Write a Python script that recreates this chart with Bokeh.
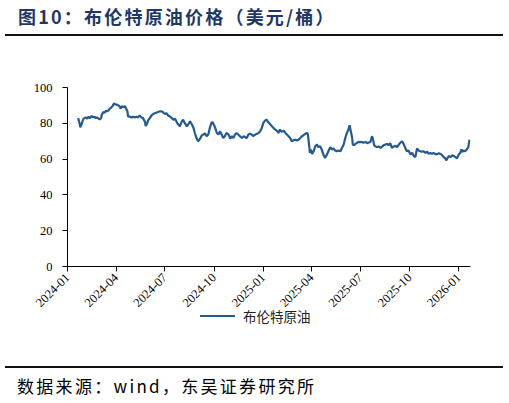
import datetime as dt
from math import pi
from bokeh.plotting import figure
from bokeh.layouts import column
from bokeh.models import (Div, MonthsTicker, DatetimeTickFormatter, Range1d, FixedTicker)
from bokeh.embed import file_html
from bokeh.resources import INLINE

# ---- data ----
base_date = "2024-01-01"
day_offsets = [20, 23, 24, 26, 28, 30, 34, 37, 39, 42, 45, 48, 50, 53, 55, 58, 60, 63, 64, 67,
               69, 72, 74, 77, 79, 82, 84, 87, 88, 92, 95, 98, 99, 102, 104, 107, 109, 112, 113, 117,
               120, 123, 126, 129, 132, 135, 138, 141, 145, 146, 149, 151, 154, 157, 160, 163, 166, 169, 173, 176,
               178, 182, 185, 188, 191, 195, 198, 201, 204, 207, 210, 213, 216, 219, 223, 226, 229, 232, 235, 238,
               241, 244, 248, 251, 254, 257, 260, 263, 266, 269, 271, 274, 276, 279, 282, 285, 288, 291, 294, 297,
               301, 304, 307, 310, 313, 316, 319, 322, 326, 329, 332, 335, 338, 341, 344, 347, 351, 354, 357, 360,
               363, 366, 369, 372, 375, 379, 382, 385, 388, 391, 394, 397, 400, 404, 407, 410, 413, 416, 419, 422,
               425, 429, 432, 435, 438, 441, 444, 447, 449, 451, 453, 455, 457, 460, 463, 466, 469, 472, 475, 478,
               481, 485, 488, 491, 494, 497, 500, 503, 506, 510, 513, 516, 519, 522, 525, 527, 530, 532, 533, 536,
               538, 541, 544, 547, 550, 553, 557, 560, 563, 566, 569, 571, 573, 575, 578, 581, 585, 588, 591, 594,
               597, 600, 603, 606, 609, 613, 616, 619, 622, 625, 628, 631, 634, 637, 641, 644, 647, 650, 653, 656,
               659, 662, 665, 669, 672, 675, 678, 681, 684, 688, 691, 694, 697, 700, 703, 706, 708, 711, 713, 716,
               719, 722, 725, 728, 731, 734, 736, 738, 740, 743, 746, 749, 751]
brent_price = [82.9, 79.3, 77.8, 79.3, 81.1, 82.6, 83.3, 82.6, 83.7, 82.9, 84.1, 83.3, 83.7, 82.9, 83.3, 82.6, 82.2, 82.9, 84.8, 86.3,
               85.9, 87.0, 86.7, 87.4, 88.1, 88.9, 89.6, 91.1, 90.7, 90.4, 90.0, 89.3, 88.1, 89.6, 88.9, 89.6, 88.5, 86.7, 83.9, 83.7,
               83.3, 83.7, 83.3, 83.7, 83.3, 84.4, 83.3, 82.9, 80.7, 78.5, 80.0, 81.9, 82.9, 84.4, 85.2, 85.6, 85.9, 86.3, 86.7, 86.7,
               86.3, 85.2, 85.6, 84.4, 83.9, 82.9, 82.0, 82.6, 80.7, 79.3, 78.3, 80.7, 82.0, 80.2, 78.3, 79.6, 81.1, 79.6, 77.8, 74.6,
               71.8, 70.0, 71.5, 73.3, 73.7, 74.4, 72.8, 73.7, 77.4, 80.2, 80.7, 78.9, 77.4, 74.6, 73.7, 75.6, 73.7, 71.8, 72.8, 74.6,
               73.7, 71.5, 72.8, 71.8, 73.7, 74.6, 73.7, 72.8, 71.8, 72.8, 72.2, 71.8, 73.7, 74.1, 73.7, 72.9, 73.7, 74.1, 74.6, 75.6,
               77.4, 80.2, 81.5, 82.0, 80.7, 79.3, 78.3, 77.4, 76.5, 75.9, 74.6, 76.5, 75.2, 75.9, 74.6, 73.7, 72.8, 71.8, 70.0, 70.4,
               70.9, 70.4, 70.9, 71.8, 72.8, 73.3, 74.1, 74.6, 74.1, 69.1, 63.5, 65.4, 62.9, 64.4, 67.2, 68.1, 66.7, 67.2, 65.4, 62.6,
               60.7, 62.6, 64.8, 66.7, 65.4, 65.9, 64.8, 64.4, 64.8, 64.4, 66.3, 68.1, 71.8, 74.6, 76.5, 78.9, 74.6, 71.8, 68.1, 67.8,
               68.5, 69.1, 69.6, 69.5, 69.6, 69.1, 69.6, 68.9, 69.3, 69.6, 72.8, 70.9, 67.8, 67.2, 66.7, 67.0, 66.3, 67.0, 67.8, 68.1,
               68.5, 67.8, 68.9, 66.3, 67.0, 67.4, 66.7, 68.1, 69.1, 70.0, 68.5, 66.3, 64.4, 64.8, 62.6, 63.5, 61.7, 61.1, 65.9, 64.8,
               64.4, 64.1, 64.4, 63.5, 64.1, 62.9, 63.5, 62.9, 63.5, 62.6, 62.9, 63.3, 62.9, 62.2, 61.1, 60.4, 59.3, 61.1, 61.7, 61.1,
               62.2, 61.7, 61.1, 60.4, 62.6, 63.5, 65.4, 64.1, 64.8, 64.4, 65.4, 66.7, 70.9]
series_name = "布伦特原油"
title_text = "图10：布伦特原油价格（美元/桶）"
source_text = "数据来源：wind，东吴证券研究所"
y_ticks = [0, 20, 40, 60, 80, 100]
x_start, x_end = "2024-01-01", "2026-01-23"

LINE_COLOR = "#255A8F"
d0 = dt.datetime.fromisoformat(base_date)
dates = [d0 + dt.timedelta(days=d) for d in day_offsets]

W = 509
FIG_H = 288

title_div = Div(text=title_text, width=498, height=36, margin=(0, 0, 0, 5),
                styles={"font-family": "'Noto Sans CJK SC'", "font-weight": "bold",
                        "font-size": "18px", "letter-spacing": "2.2px", "color": "#1F3864",
                        "border-bottom": "2.5px solid #111111",
                        "padding-left": "13px", "padding-top": "6px",
                        "box-sizing": "border-box", "line-height": "20px",
                        "white-space": "nowrap"})

p = figure(width=W, height=FIG_H, x_axis_type="datetime", output_backend="svg",
           toolbar_location=None, min_border_left=67, min_border_right=39,
           min_border_top=51, min_border_bottom=58, margin=(0, 0, 0, 0))
p.x_range = Range1d(dt.datetime.fromisoformat(x_start), dt.datetime.fromisoformat(x_end))
p.y_range = Range1d(0, 100)
p.outline_line_color = None
p.grid.grid_line_color = None
p.background_fill_color = "white"
p.border_fill_color = None

p.line(dates, brent_price, line_color=LINE_COLOR, line_width=2.2)

# axes
p.yaxis.ticker = FixedTicker(ticks=y_ticks)
p.xaxis.ticker = MonthsTicker(months=[0, 3, 6, 9])
p.xaxis.formatter = DatetimeTickFormatter(years="%Y-%m", months="%Y-%m", days="%Y-%m")
p.xaxis.major_label_orientation = pi / 4
for ax in (p.xaxis, p.yaxis):
    ax.axis_line_color = "black"
    ax.axis_line_width = 1
    ax.major_tick_line_color = "black"
    ax.major_tick_in = 0
    ax.major_tick_out = 5
    ax.minor_tick_line_color = None
    ax.major_label_text_font = "Liberation Serif"
    ax.major_label_text_font_size = "12.5px"
    ax.major_label_text_color = "black"
p.yaxis.major_label_standoff = 10
p.xaxis.major_label_standoff = 4

legend_html = ('<span style="display:inline-block;width:35px;height:0;'
               'border-top:2.5px solid %s;vertical-align:middle;margin-right:8px"></span>'
               '<span style="vertical-align:middle">%s</span>') % (LINE_COLOR, series_name)
legend_div = Div(text=legend_html, width=200, height=20, margin=(-20, 0, 42, 200),
                 styles={"font-family": "'Noto Sans CJK SC'", "font-size": "13.5px",
                         "color": "#222222", "line-height": "20px",
                         "white-space": "nowrap", "background": "transparent"})

source_div = Div(text=source_text, width=498, height=37, margin=(0, 0, 0, 5),
                 styles={"font-family": "'Noto Sans CJK SC'", "font-size": "17px",
                         "letter-spacing": "2.3px",
                         "color": "black", "border-top": "2.5px solid #111111",
                         "padding-left": "12px", "padding-top": "8px",
                         "box-sizing": "border-box", "line-height": "20px",
                         "white-space": "nowrap"})

layout = column(title_div, p, legend_div, source_div, spacing=0, margin=0)

open("out.html", "w").write(file_html(layout, INLINE))
